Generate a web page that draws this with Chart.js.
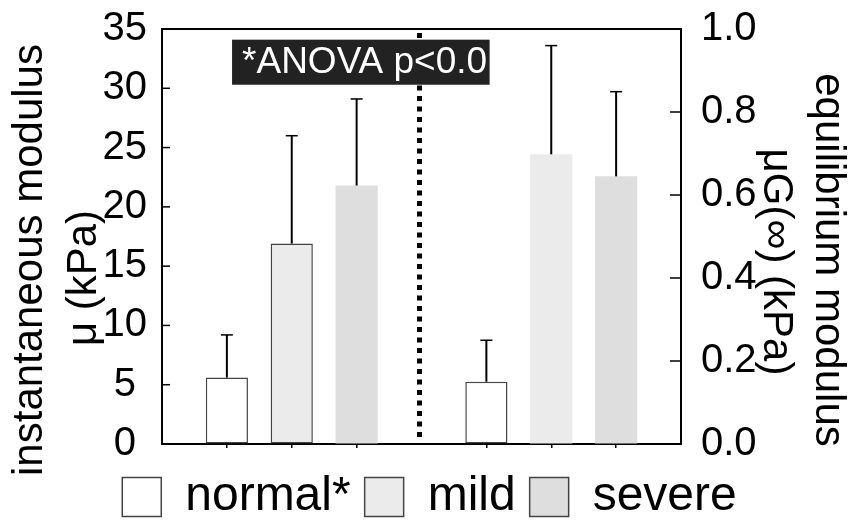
<!DOCTYPE html>
<html>
<head>
<meta charset="utf-8">
<script src="https://cdn.jsdelivr.net/npm/chart.js@4.4.0/dist/chart.umd.min.js"></script>
<style>
  html, body { margin: 0; padding: 0; background: #fff; }
  #wrap { width: 859px; height: 523px; }
</style>
</head>
<body>
<div id="wrap"><canvas id="myChart"></canvas></div>
<script>
// slot labels along x; empty slots are the margins and the divider
var slots = ['', 'normal', 'mild', 'severe', '', 'normal', 'mild', 'severe', ''];
var groups = ['normal*', 'mild', 'severe'];
var groupColors = ['#ffffff', '#ebebeb', '#dedede'];

// instantaneous modulus mu (kPa), left axis
var instMean = [null, 5.6, 16.9, 21.8, null, null, null, null, null];
var instErr  = [null, 3.6, 9.1, 7.3, null, null, null, null, null];

// equilibrium modulus muG (kPa), right axis
var equiMean = [null, null, null, null, null, 0.15, 0.698, 0.645, null];
var equiErr  = [null, null, null, null, null, 0.10, 0.262, 0.204, null];

var dividerSlot = 4;
var note = '*ANOVA p<0.0';
// note box in data units: x slots, y in left axis units
var noteBox = { x0: 1.08, x1: 5.05, y0: 34.1, y1: 30.3 };

var FONT = 'Liberation Sans, Arial, sans-serif';

function slotColors(arr) {
    return arr.map(function (v, i) {
        return groupColors[(i - 1) % 4] || '#ffffff';
    });
}

// keep tick label overflow from pushing the plot area around
function noPad(s) {
    s.paddingTop = 0;
    s.paddingBottom = 0;
    s.paddingLeft = 0;
    s.paddingRight = 0;
}

var decor = {
    id: 'decor',
    beforeDatasetsDraw: function (chart) {
        var ctx = chart.ctx;
        var area = chart.chartArea;
        var x = chart.scales.x.getPixelForValue(dividerSlot) - 2;
        ctx.save();
        ctx.strokeStyle = '#000';
        ctx.lineWidth = 5;
        ctx.setLineDash([5, 5.5]);
        ctx.beginPath();
        ctx.moveTo(x, area.top + 4);
        ctx.lineTo(x, area.bottom - 3);
        ctx.stroke();
        ctx.restore();
    },
    afterDatasetsDraw: function (chart) {
        var ctx = chart.ctx;
        var errs = [instErr, equiErr];
        ctx.save();
        ctx.strokeStyle = '#000';
        chart.data.datasets.forEach(function (ds, di) {
            var meta = chart.getDatasetMeta(di);
            var scale = chart.scales[ds.yAxisID];
            meta.data.forEach(function (bar, i) {
                var v = ds.data[i];
                if (v === null) return;
                var top = scale.getPixelForValue(v + errs[di][i]);
                ctx.lineWidth = 2;
                ctx.beginPath();
                ctx.moveTo(bar.x, bar.y);
                ctx.lineTo(bar.x, top);
                ctx.stroke();
                ctx.lineWidth = 1.5;
                ctx.beginPath();
                ctx.moveTo(bar.x - 6, top);
                ctx.lineTo(bar.x + 6, top);
                ctx.stroke();
            });
        });

        // note box
        var sx = chart.scales.x, sy = chart.scales.y;
        var bx0 = sx.getPixelForValue(noteBox.x0), bx1 = sx.getPixelForValue(noteBox.x1);
        var by0 = sy.getPixelForValue(noteBox.y0), by1 = sy.getPixelForValue(noteBox.y1);
        ctx.fillStyle = '#222222';
        ctx.fillRect(bx0, by0, bx1 - bx0, by1 - by0);
        ctx.beginPath();
        ctx.rect(bx0, by0, bx1 - bx0, by1 - by0);
        ctx.clip();
        ctx.fillStyle = '#ffffff';
        ctx.font = '37px ' + FONT;
        ctx.textBaseline = 'middle';
        ctx.textAlign = 'left';
        ctx.fillText(note, bx0 + 10, (by0 + by1) / 2 + 1);
        ctx.restore();
    },
    afterDraw: function (chart) {
        var ctx = chart.ctx;
        var area = chart.chartArea;
        ctx.save();
        ctx.strokeStyle = '#000';
        ctx.lineWidth = 2;
        // top edge of the frame
        ctx.beginPath();
        ctx.moveTo(area.left, area.top);
        ctx.lineTo(area.right, area.top);
        ctx.stroke();
        // inward tick marks
        ctx.lineWidth = 1.5;
        [['y', area.left, 8], ['y2', area.right, -11]].forEach(function (a) {
            var s = chart.scales[a[0]];
            s.ticks.forEach(function (t) {
                if (t.value <= s.min || t.value >= s.max) return;
                var y = s.getPixelForValue(t.value);
                ctx.beginPath();
                ctx.moveTo(a[1], y);
                ctx.lineTo(a[1] + a[2], y);
                ctx.stroke();
            });
        });
        // axis titles
        ctx.fillStyle = '#000';
        ctx.font = '42px ' + FONT;
        ctx.textAlign = 'center';
        ctx.textBaseline = 'middle';
        [['instantaneous modulus', 30, 260, -1], ['\u03bc (kPa)', 84, 278, -1],
         ['equilibrium modulus', 828, 260, 1], ['\u03bcG(\u221e) (kPa)', 776, 262, 1]].forEach(function (t) {
            ctx.save();
            ctx.translate(t[1], t[2]);
            ctx.rotate(t[3] * Math.PI / 2);
            ctx.fillText(t[0], 0, 0);
            ctx.restore();
        });
        ctx.restore();
    }
};

var ctx = document.getElementById('myChart').getContext('2d');
var myChart = new Chart(ctx, {
    type: 'bar',
    data: {
        labels: slots,
        datasets: [
            {
                label: 'instantaneous',
                data: instMean,
                yAxisID: 'y',
                backgroundColor: slotColors(instMean),
                borderColor: '#444444',
                borderWidth: [0, 1.5, 1.5, 0, 0, 0, 0, 0, 0],
                borderSkipped: false
            },
            {
                label: 'equilibrium',
                data: equiMean,
                yAxisID: 'y2',
                backgroundColor: slotColors(equiMean),
                borderColor: '#444444',
                borderWidth: [0, 0, 0, 0, 0, 1.5, 0, 0, 0],
                borderSkipped: false
            }
        ]
    },
    options: {
        responsive: true,
        maintainAspectRatio: false,
        animation: false,
        grouped: false,
        categoryPercentage: 1,
        barPercentage: 0.65,
        layout: { padding: { top: 29, bottom: -8, left: 0, right: 0 } },
        plugins: {
            tooltip: { enabled: false },
            legend: {
                position: 'bottom',
                onClick: null,
                labels: {
                    boxWidth: 39,
                    boxHeight: 39,
                    padding: 14,
                    color: '#000',
                    font: { family: FONT, size: 48 },
                    generateLabels: function () {
                        return groups.map(function (g, i) {
                            return {
                                text: g,
                                fillStyle: groupColors[i],
                                strokeStyle: '#444444',
                                lineWidth: 1.5,
                                hidden: false
                            };
                        });
                    }
                }
            }
        },
        scales: {
            x: {
                type: 'category',
                offset: false,
                grid: {
                    offset: false,
                    drawOnChartArea: false,
                    drawTicks: true,
                    tickLength: 4,
                    lineWidth: 1.5,
                    color: function (c) { return slots[c.index] ? '#000' : 'rgba(0,0,0,0)'; }
                },
                border: { color: '#000', width: 2 },
                ticks: { display: false },
                afterFit: function (s) { s.height = 15; noPad(s); }
            },
            y: {
                position: 'left',
                min: 0,
                max: 35,
                ticks: {
                    stepSize: 5,
                    color: '#000',
                    padding: 15,
                    crossAlign: 'center',
                    font: { family: FONT, size: 40 }
                },
                grid: { drawOnChartArea: false, drawTicks: false },
                border: { color: '#000', width: 2 },
                afterFit: function (s) { s.width = 162; noPad(s); }
            },
            y2: {
                position: 'right',
                min: 0,
                max: 1,
                ticks: {
                    stepSize: 0.2,
                    color: '#000',
                    padding: 20,
                    font: { family: FONT, size: 40 },
                    callback: function (v) { return v.toFixed(1); }
                },
                grid: { drawOnChartArea: false, drawTicks: false },
                border: { color: '#000', width: 2 },
                afterFit: function (s) { s.width = 178; noPad(s); }
            }
        }
    },
    plugins: [decor]
});
</script>
</body>
</html>
